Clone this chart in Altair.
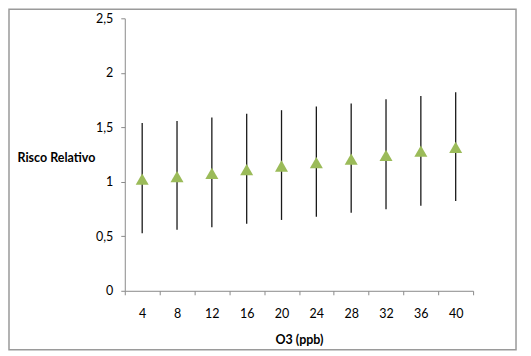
import altair as alt
import pandas as pd

o3 = [4, 8, 12, 16, 20, 24, 28, 32, 36, 40]
rr = [1.025, 1.047, 1.078, 1.111, 1.145, 1.175, 1.209, 1.243, 1.282, 1.316]
lower = [0.528, 0.561, 0.583, 0.616, 0.650, 0.680, 0.717, 0.748, 0.781, 0.824]
upper = [1.540, 1.557, 1.590, 1.624, 1.657, 1.691, 1.718, 1.758, 1.788, 1.822]
x_ticks = [2, 6, 10, 14, 18, 22, 26, 30, 34, 38, 42]
y_ticks = [0, 0.5, 1, 1.5, 2, 2.5]

df = pd.DataFrame({"o3": o3, "rr": rr, "lo": lower, "hi": upper})

FONT = "Lato"
AX = "#8a8a8a"

xscale = alt.Scale(domain=[2, 42], nice=False, zero=False)
yscale = alt.Scale(domain=[0, 2.5], nice=False)

yaxis = alt.Axis(
    values=y_ticks, grid=False, domainColor=AX, tickColor=AX, tickSize=4,
    labelExpr="replace(format(datum.value, '.1~f'), '.', ',')",
    labelFont=FONT, labelFontSize=12.5, labelColor="#000", labelPadding=8,
    title="Risco Relativo", titleAngle=0, titleX=-108, titleY=139,
    titleAlign="left", titleBaseline="middle", titleFont=FONT,
    titleFontSize=12.5, titleFontWeight="bold", titleColor="#000",
)

tick_axis = alt.Axis(
    orient="bottom", values=x_ticks, labels=False, grid=False, domainColor=AX,
    tickColor=AX, tickSize=4, title=None,
)
label_axis = alt.Axis(
    orient="bottom", values=o3, ticks=False, domain=False, grid=False,
    labelFont=FONT, labelFontSize=12.5, labelColor="#000", labelPadding=17,
    title="O3 (ppb)", titleFont=FONT, titleFontSize=12.5, titleFontWeight="bold",
    titleColor="#000", titlePadding=13,
)

bars = alt.Chart(df).mark_rule(color="#1a1a1a", strokeWidth=1.3).encode(
    x=alt.X("o3:Q", scale=xscale, axis=tick_axis),
    y=alt.Y("lo:Q", scale=yscale, axis=yaxis),
    y2="hi:Q",
)

points = alt.Chart(df).mark_point(
    shape="triangle-up", filled=True, color="#9BBB59", opacity=1, size=170
).encode(
    x=alt.X("o3:Q", scale=xscale, axis=label_axis),
    y=alt.Y("rr:Q", scale=yscale, axis=yaxis),
)

border = alt.Chart(pd.DataFrame({"a": [0]})).mark_rect(
    fill=None, stroke="#9a9a9a", strokeWidth=1.5
).encode(
    x=alt.value(-116), x2=alt.value(392), y=alt.value(-9), y2=alt.value(332)
)

chart = alt.layer(border, bars, points).resolve_axis(x="independent").properties(
    width=349, height=273,
    autosize=alt.AutoSizeParams(type="none"),
    padding={"left": 117, "top": 10, "right": 50, "bottom": 60},
).configure_view(stroke=None)

chart.save("out.html", embed_options={"renderer": "svg", "actions": False})
